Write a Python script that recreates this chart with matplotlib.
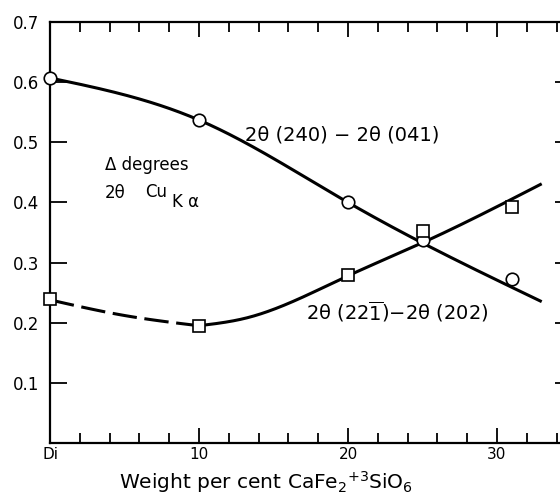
import numpy as np
import matplotlib
matplotlib.use("Agg")
import matplotlib.pyplot as plt

# ---- data ----
circle_x = [0, 10, 20, 25, 31]
circle_y = [0.607, 0.537, 0.400, 0.337, 0.272]
square_x = [0, 10, 20, 25, 31]
square_y = [0.240, 0.195, 0.279, 0.352, 0.392]

# hand-drawn guide curves (knots)
curve_a_x = [0, 10, 20, 33]
curve_a_y = [0.607, 0.537, 0.400, 0.235]
curve_b_dash_x = [0, 5, 10]
curve_b_dash_y = [0.238, 0.212, 0.195]
curve_b_solid_x = [10, 13.2, 15.4, 20, 25, 33]
curve_b_solid_y = [0.195, 0.208, 0.226, 0.278, 0.333, 0.431]

x_ticks = [0, 10, 20, 30]
x_ticklabels = ["Di", "10", "20", "30"]
y_ticks = [0.1, 0.2, 0.3, 0.4, 0.5, 0.6, 0.7]
y_ticklabels = ["0.1", "0.2", "0.3", "0.4", "0.5", "0.6", "0.7"]


def natural_spline(xk, yk, xs):
    xk = np.asarray(xk, float); yk = np.asarray(yk, float)
    n = len(xk)
    h = np.diff(xk)
    A = np.zeros((n, n)); b = np.zeros(n)
    A[0, 0] = 1; A[-1, -1] = 1
    for i in range(1, n - 1):
        A[i, i - 1] = h[i - 1]
        A[i, i] = 2 * (h[i - 1] + h[i])
        A[i, i + 1] = h[i]
        b[i] = 6 * ((yk[i + 1] - yk[i]) / h[i] - (yk[i] - yk[i - 1]) / h[i - 1])
    M = np.linalg.solve(A, b)
    xs = np.asarray(xs, float)
    idx = np.clip(np.searchsorted(xk, xs) - 1, 0, n - 2)
    x0 = xk[idx]; x1 = xk[idx + 1]; hh = x1 - x0
    t0 = x1 - xs; t1 = xs - x0
    return (M[idx] * t0 ** 3 / (6 * hh) + M[idx + 1] * t1 ** 3 / (6 * hh)
            + (yk[idx] / hh - M[idx] * hh / 6) * t0
            + (yk[idx + 1] / hh - M[idx + 1] * hh / 6) * t1)


plt.rcParams['font.family'] = ['DejaVu Sans']
plt.rcParams['mathtext.default'] = 'regular'

W, H = 560, 496
fig = plt.figure(figsize=(W / 100, H / 100), dpi=100)

x0_px, bottom_px, top_px = 50, 443, 22
px_per_unit = 14.9
xmax = 35
ax = fig.add_axes([x0_px / W, (H - bottom_px) / H,
                   xmax * px_per_unit / W, (bottom_px - top_px) / H])
ax.set_xlim(0, xmax)
ax.set_ylim(0, 0.7)

lw = 2.2
xa = np.linspace(curve_a_x[0], curve_a_x[-1], 300)
ax.plot(xa, natural_spline(curve_a_x, curve_a_y, xa), color='black', lw=lw,
        solid_capstyle='butt', zorder=2)
xd = np.linspace(curve_b_dash_x[0], curve_b_dash_x[-1], 100)
ax.plot(xd, natural_spline(curve_b_dash_x, curve_b_dash_y, xd), color='black',
        lw=lw, dashes=(8, 2.5), zorder=2)
xs = np.linspace(curve_b_solid_x[0], curve_b_solid_x[-1], 300)
ax.plot(xs, natural_spline(curve_b_solid_x, curve_b_solid_y, xs), color='black',
        lw=lw, solid_capstyle='butt', zorder=2)

ax.plot(circle_x, circle_y, 'o', ms=9, mfc='white', mec='black', mew=1.2,
        zorder=3, clip_on=False)
ax.plot(square_x, square_y, 's', ms=9, mfc='white', mec='black', mew=1.2,
        zorder=3, clip_on=False)

for s in ax.spines.values():
    s.set_linewidth(1.6)

ax.set_xticks(x_ticks)
ax.set_xticklabels(x_ticklabels, fontsize=11)
ax.set_xticks(np.arange(0, xmax + 0.1, 2), minor=True)
ax.set_yticks(y_ticks)
ax.set_yticklabels(y_ticklabels, fontsize=12)
ax.tick_params(axis='x', which='major', direction='in', length=11, width=1.3,
               top=True, bottom=True, pad=3)
ax.tick_params(axis='x', which='minor', direction='in', length=7, width=1.3,
               top=True, bottom=True)
ax.tick_params(axis='y', which='major', direction='in', length=12, width=1.3,
               left=True, right=True, pad=8)

fs = 14
ax.text(13.1, 0.512, "2θ (240) − 2θ (041)", fontsize=fs,
        va='center', ha='left')
ax.text(17.2, 0.218, r"2θ (22$\overline{1}$)−2θ (202)", fontsize=fs,
        va='center', ha='left')
ax.text(3.7, 0.463, "Δ degrees", fontsize=12, va='center', ha='left')
ax.text(3.7, 0.416, "2θ", fontsize=12, va='center', ha='left')
ax.text(6.4, 0.417, "Cu", fontsize=12, va='center', ha='left')
ax.text(8.2, 0.400, "K α", fontsize=12, va='center', ha='left')

fig.text(266 / W, 1 - 489 / H,
         r"Weight per cent CaFe$_{2}$$^{+3}$SiO$_{6}$", fontsize=14.5,
         ha='center', va='baseline')

fig.savefig("out.png", dpi=100)
